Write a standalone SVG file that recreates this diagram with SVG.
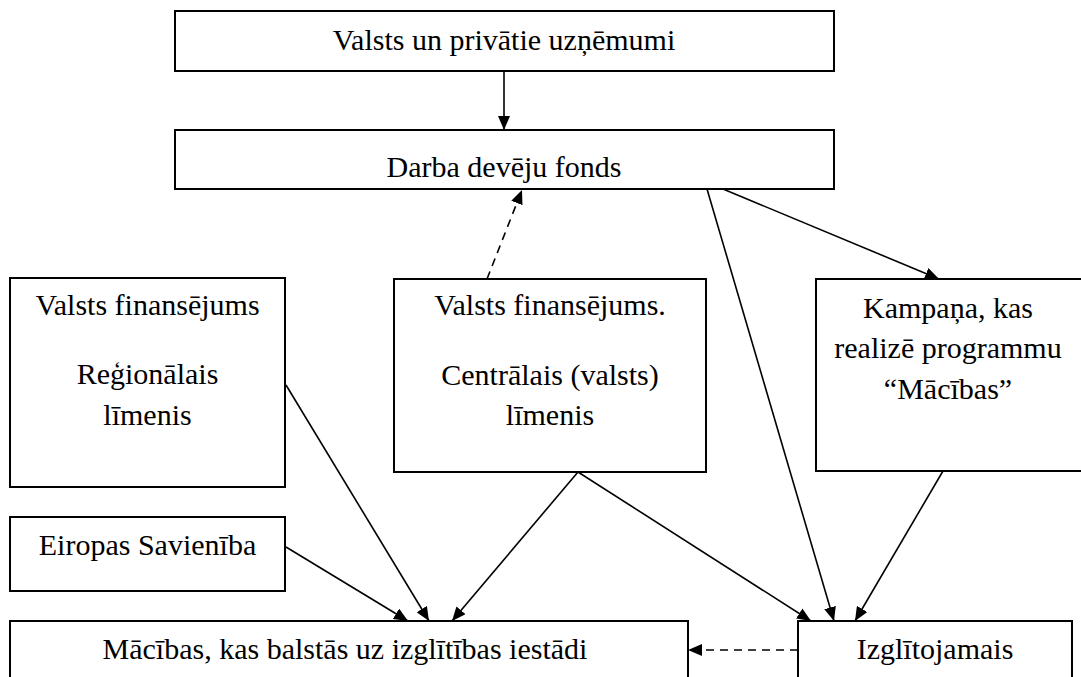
<svg xmlns="http://www.w3.org/2000/svg" width="1081" height="677" viewBox="0 0 1081 677">
<style>
.box{fill:#fff;stroke:#000;stroke-width:2}
.t{font-family:"Liberation Serif","Times New Roman",serif;font-size:30px;fill:#000;text-anchor:middle}
.c{stroke:#000;stroke-width:1.6;fill:none;marker-end:url(#ah)}
.d{stroke-dasharray:8,6}
</style>
<defs>
<marker id="ah" viewBox="0 0 14 12" refX="14" refY="6" markerWidth="14" markerHeight="12" markerUnits="userSpaceOnUse" orient="auto">
<path d="M0,0 L14,6 L0,12 Z" fill="#000"/>
</marker>
</defs>
<rect width="1081" height="677" fill="#fff"/>
<g id="n-uznemumi"><rect class="box" x="175" y="11" width="659" height="60"/><text class="t" x="504" y="50">Valsts un privātie uzņēmumi</text></g>
<g id="n-fonds"><rect class="box" x="175" y="130" width="659" height="59"/><text class="t" x="504" y="177">Darba devēju fonds</text></g>
<g id="n-regional"><rect class="box" x="10" y="278" width="275" height="209"/><text class="t" x="147.5" y="315">Valsts finansējums</text><text class="t" x="147.5" y="384">Reģionālais</text><text class="t" x="147.5" y="425">līmenis</text></g>
<g id="n-central"><rect class="box" x="394" y="279" width="312" height="193"/><text class="t" x="550" y="315">Valsts finansējums.</text><text class="t" x="550" y="385">Centrālais (valsts)</text><text class="t" x="550" y="425">līmenis</text></g>
<g id="n-kampana"><rect class="box" x="816" y="279" width="270" height="192"/><text class="t" x="948" y="318">Kampaņa, kas</text><text class="t" x="948" y="358">realizē programmu</text><text class="t" x="948" y="399">“Mācības”</text></g>
<g id="n-es"><rect class="box" x="10" y="517" width="275" height="74"/><text class="t" x="147.5" y="555">Eiropas Savienība</text></g>
<g id="n-macibas"><rect class="box" x="10" y="621" width="678" height="70"/><text class="t" x="345" y="659">Mācības, kas balstās uz izglītības iestādi</text></g>
<g id="n-izglitojamais"><rect class="box" x="798" y="621" width="274" height="70"/><text class="t" x="935" y="659">Izglītojamais</text></g>
<g id="connectors">
<line class="c" x1="504" y1="71" x2="504" y2="130"/>
<line class="c d" x1="487" y1="279" x2="522" y2="190"/>
<line class="c" x1="723" y1="189" x2="939" y2="279"/>
<line class="c" x1="707" y1="189" x2="834" y2="621"/>
<line class="c" x1="286" y1="385" x2="429" y2="621"/>
<line class="c" x1="286" y1="547" x2="408" y2="621"/>
<line class="c" x1="578" y1="472" x2="452" y2="621"/>
<line class="c" x1="578" y1="472" x2="811" y2="621"/>
<line class="c" x1="943" y1="471" x2="855" y2="621"/>
<line class="c d" x1="798" y1="650" x2="688" y2="650"/>
</g>
</svg>
